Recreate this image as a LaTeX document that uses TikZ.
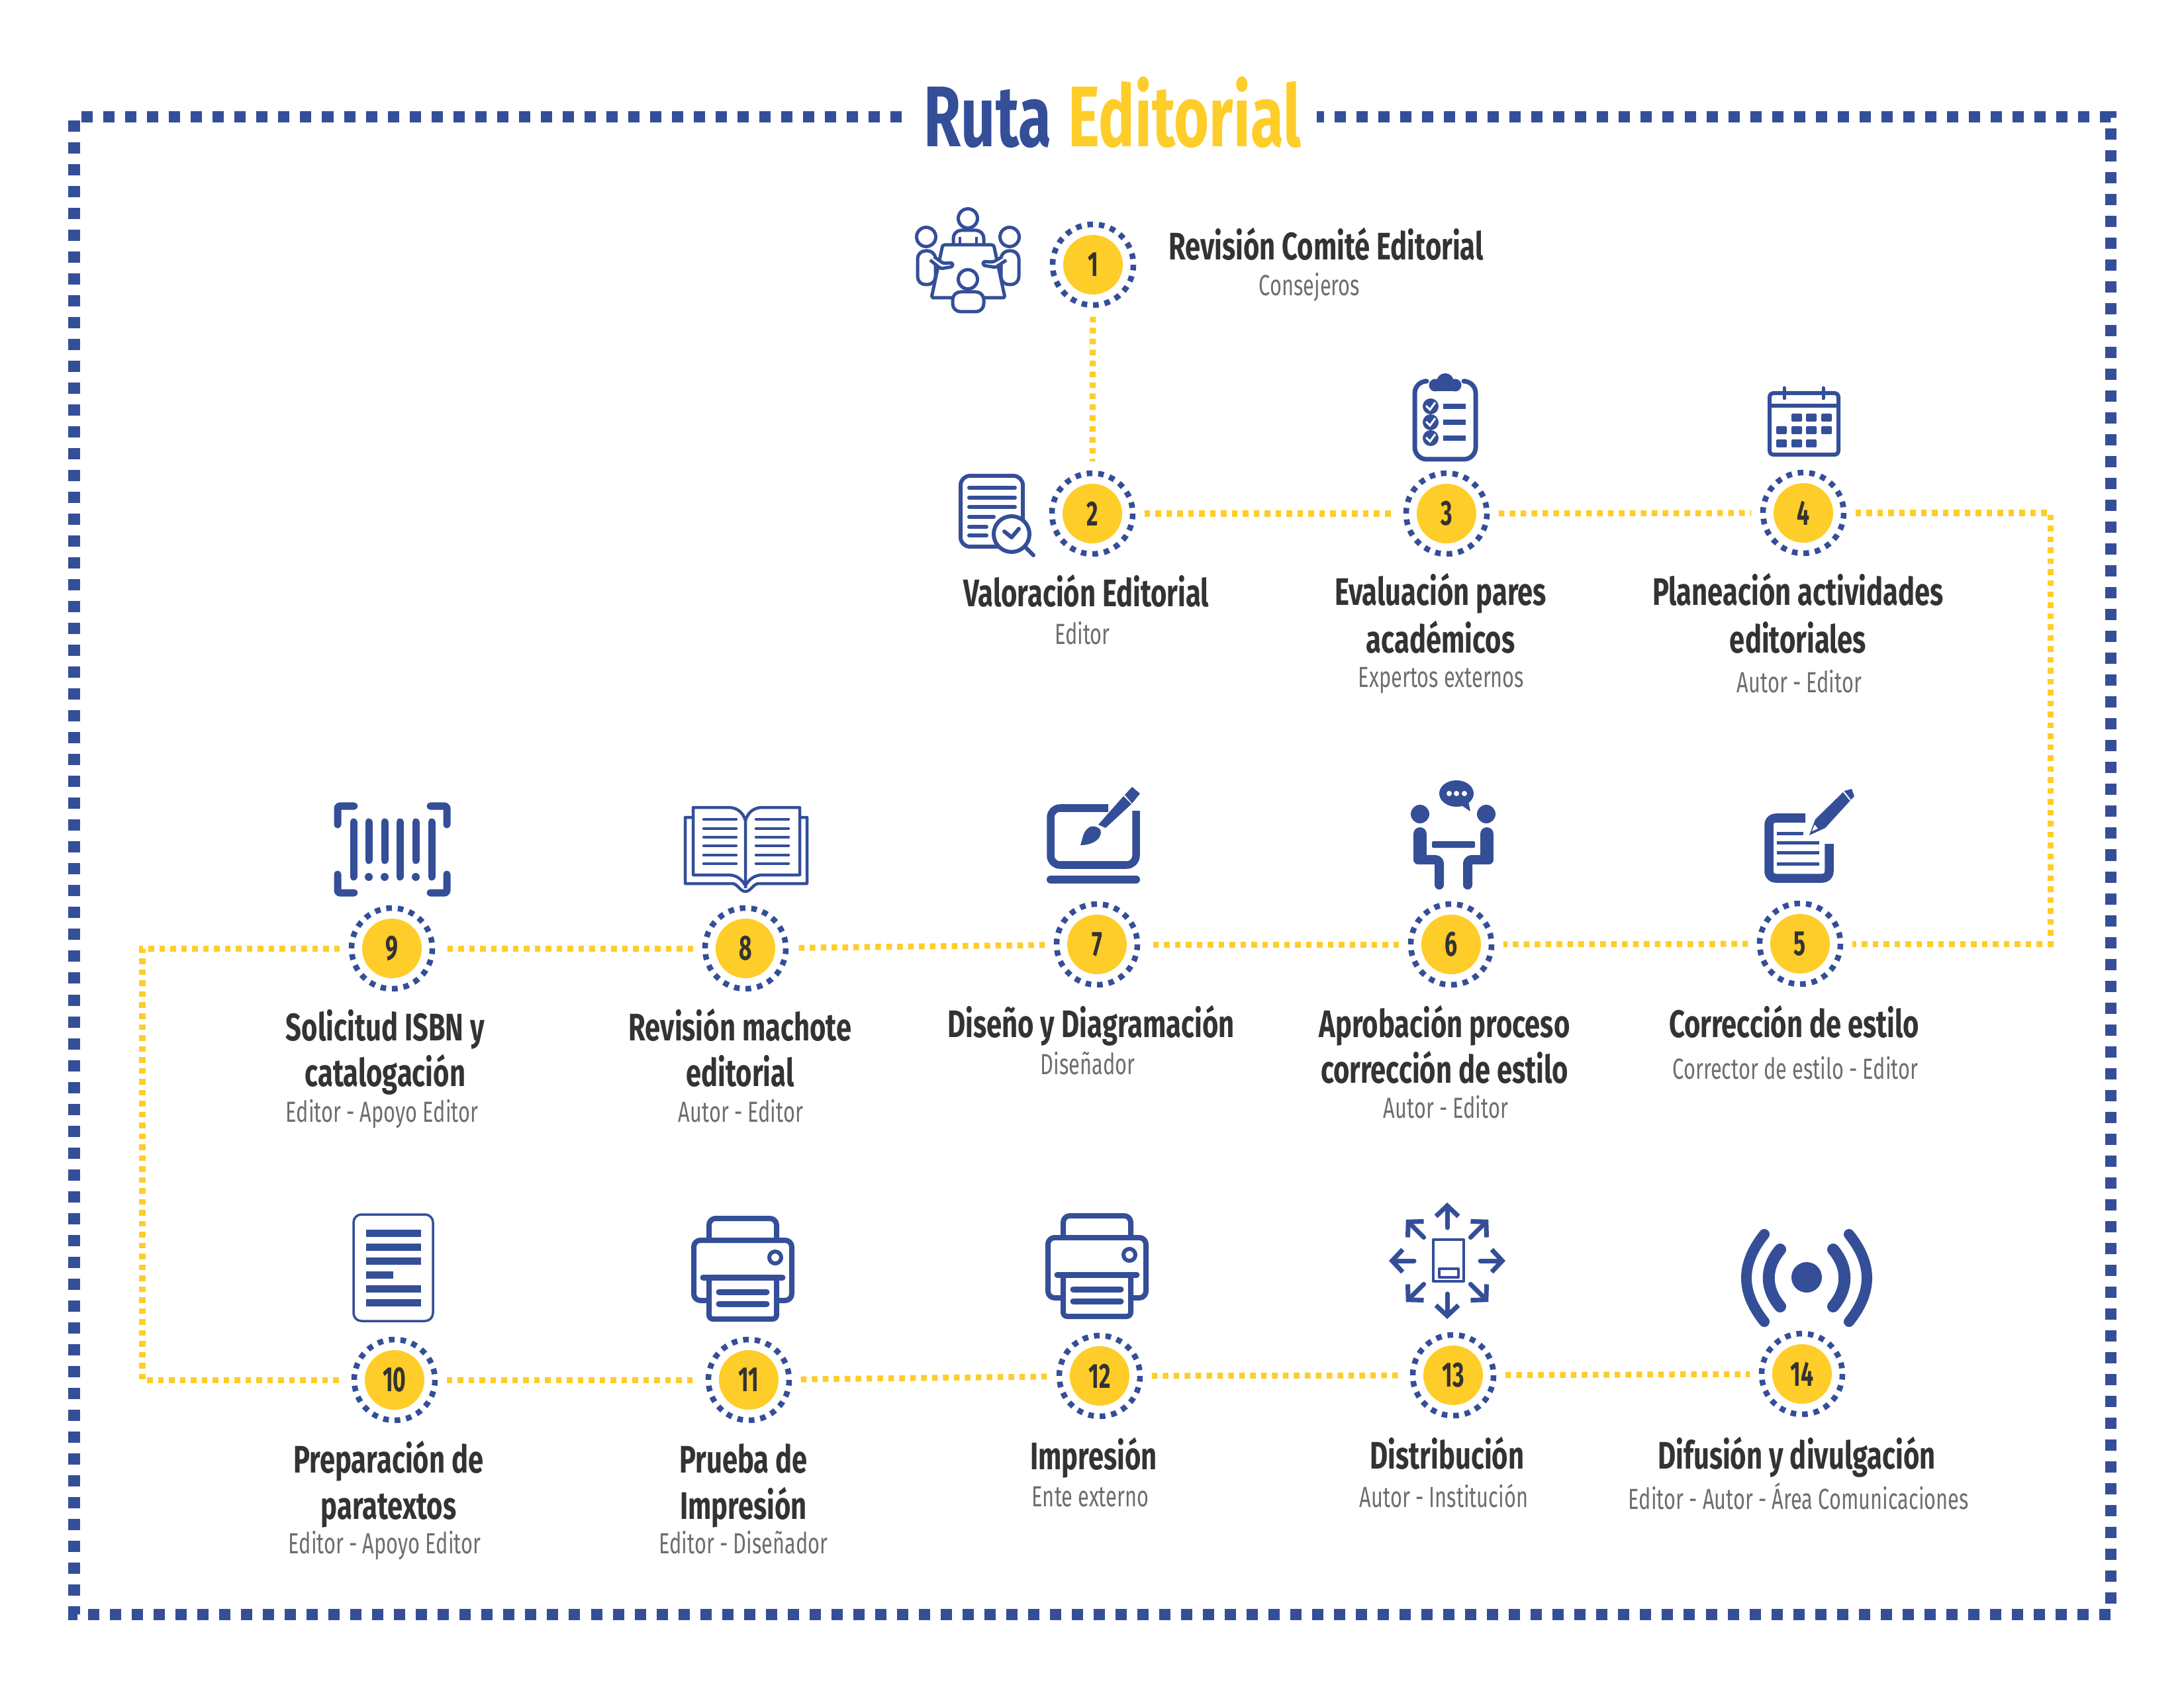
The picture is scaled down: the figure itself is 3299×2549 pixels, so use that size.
\documentclass[tikz,border=0pt]{standalone}
\usepackage{fontspec}
\usepackage{tikz}
\usetikzlibrary{arrows.meta,calc}
\newfontfamily\headfont[FakeStretch=0.72]{Fira Sans}
\newfontfamily\numfont[FakeStretch=0.64]{Fira Sans}
\newfontfamily\subfont[FakeStretch=0.70]{Fira Sans}
\newfontfamily\titlefont[FakeStretch=0.70]{Fira Sans}
\definecolor{inkblue}{HTML}{344E98}
\definecolor{sun}{HTML}{FFCD29}
\definecolor{ink}{HTML}{333333}
\definecolor{ash}{HTML}{6D6E71}
\tikzset{
  framedash/.style={inkblue,line width=0.17cm,dash pattern=on 0.17cm off 0.16cm},
  linkline/.style={sun,line width=0.09cm,dash pattern=on 0.085cm off 0.08cm},
  ringline/.style={inkblue,line width=0.085cm,dash pattern=on 0.085cm off 0.0892cm},
  hub/.style={circle,minimum size=1.56cm,inner sep=0pt},
  num/.style={text=ink,inner sep=0pt,font=\numfont\bfseries\fontsize{15}{15}\selectfont},
  headlab/.style={anchor=base,text=ink,inner sep=0pt,font=\headfont\bfseries\fontsize{16.5}{18}\selectfont},
  sublab/.style={anchor=base,text=ash,inner sep=0pt,font=\subfont\fontsize{12.5}{14}\selectfont},
  titlelab/.style={anchor=base west,inner sep=0pt,font=\titlefont\bfseries\fontsize{37}{40}\selectfont},
  ico/.style={draw=inkblue,line width=0.06cm,line join=round},
  icofill/.style={fill=inkblue,draw=none},
  printicon/.pic={
    \draw[ico,line width=0.08cm,rounded corners=0.1cm] (-51,-43) -- (-51,-76) -- (51,-76) -- (51,-43);
    \draw[ico,line width=0.08cm,rounded corners=0.1cm] (-53,48) -- (-74,48) -- (-74,-43) -- (74,-43) -- (74,48) -- (53,48);
    \draw[ico,line width=0.08cm,rounded corners=0.06cm] (-51,15) -- (-51,76) -- (51,76) -- (51,15);
    \draw[ico,line width=0.09cm,line cap=round] (-60,13) -- (60,13);
    \draw[ico,line width=0.09cm,line cap=round] (-36,35) -- (36,35);
    \draw[ico,line width=0.09cm,line cap=round] (-36,53) -- (36,53);
    \draw[ico,line width=0.06cm] (49,-17) circle (9);
  }
}
\begin{document}
\begin{tikzpicture}[x=0.01cm,y=-0.01cm]
\useasboundingbox (0,0) rectangle (3299,2549);
% frame and title
\draw[framedash] (1362,177)--(112,177)--(112,2439)--(3188,2439)--(3188,177)--(1989,177);
\node[titlelab,text=inkblue] (ruta) at (1395,222) {Ruta};
\node[titlelab,text=sun] (editorial) at (1613,222) {Editorial};
% steps
\foreach \i/\x/\y in {1/1651/400,2/1650/776,3/2185/776,4/2724/775,5/2719/1426,6/2192/1427,7/1657/1427,8/1126/1433,9/592/1433,10/596/2085,11/1131/2085,12/1661/2079,13/2195/2078,14/2722/2076}{
  \node[hub] (n\i) at (\x,\y) {};
  \fill[sun] (n\i) circle (45);
  \draw[ringline] (n\i) circle (61);
  \node[num] (t\i) at (n\i) {\i};
}
% connectors
\coordinate (turna) at (3097,775);
\coordinate (turnb) at (3097,1426);
\coordinate (turnc) at (215,1433);
\coordinate (turnd) at (215,2085);
\draw[linkline] (n1)--(n2);
\foreach \a/\b in {2/3,3/4,5/6,6/7,7/8,8/9,10/11,11/12,12/13,13/14}{
  \draw[linkline] (n\a)--(n\b);
}
\draw[linkline] (n4)--(turna)--(turnb)--(n5);
\draw[linkline] (n9)--(turnc)--(turnd)--(n10);
% labels
\foreach \nm/\x/\y/\lab in {a/2003/393/Revisión Comité Editorial,b/1641/917/Valoración Editorial,c/2176/915/Evaluación pares,d/2176/986/académicos,e/2716/915/Planeación actividades,f/2716/986/editoriales,g/2710/1567/Corrección de estilo,h/2182/1567/Aprobación proceso,k/2182/1636/corrección de estilo,l/1648/1567/Diseño y Diagramación,m/1118/1572/Revisión machote,o/1118/1641/editorial,p/582/1572/Solicitud ISBN y,q/582/1641/catalogación,r/587/2225/Preparación de,s/587/2295/paratextos,u/1123/2225/Prueba de,v/1123/2295/Impresión,w/1652/2220/Impresión,z/2186/2219/Distribución,zz/2714/2219/Difusión y divulgación}{
  \node[headlab] (lab\nm) at (\x,\y) {\lab};
}
\foreach \nm/\x/\y/\lab in {a/1978/447/Consejeros,b/1635/974/Editor,c/2177/1038/Expertos externos,d/2718/1046/Autor - Editor,e/2712/1630/Corrector de estilo - Editor,f/2184/1689/Autor - Editor,g/1643/1623/Diseñador,h/1119/1695/Autor - Editor,k/577/1695/Editor - Apoyo Editor,l/581/2347/Editor - Apoyo Editor,m/1123/2347/Editor - Diseñador,o/1647/2276/Ente externo,p/2181/2277/Autor - Institución,q/2717/2280/Editor - Autor - Área Comunicaciones}{
  \node[sublab] (sub\nm) at (\x,\y) {\lab};
}
% icon 1: meeting
\draw[ico,line width=0.05cm,rounded corners=0.03cm] (1424,370)--(1501,370)--(1518,450)--(1407,450)--cycle;
\draw[ico,line width=0.05cm,rounded corners=0.12cm] (1440,370)--(1440,348)--(1486,348)--(1486,370);
\draw[ico,line width=0.04cm] (1450,358)--(1450,370) (1475,358)--(1475,370);
\draw[ico,line width=0.05cm,fill=white] (1462,330) circle (14.5);
\draw[ico,line width=0.05cm,fill=white] (1399,358) circle (14.5);
\draw[ico,line width=0.05cm,fill=white] (1525,358) circle (14.5);
\draw[ico,line width=0.05cm,fill=white,rounded corners=0.12cm] (1386,379) rectangle (1413,430);
\draw[ico,line width=0.05cm,fill=white,rounded corners=0.12cm] (1512,379) rectangle (1539,430);
\draw[ico,line width=0.05cm,fill=white,rounded corners=0.03cm] (1405,393)--(1421,406)--(1439,403)--(1439,397)--(1425,398)--(1411,388);
\draw[ico,line width=0.05cm,fill=white,rounded corners=0.03cm] (1520,393)--(1504,404)--(1485,401)--(1485,395)--(1500,396)--(1514,388);
\draw[ico,line width=0.05cm,fill=white] (1462,422) circle (14.5);
\draw[ico,line width=0.05cm,fill=white,rounded corners=0.12cm] (1439,471)--(1439,441)--(1486,441)--(1486,471)--cycle;
% icon 2: review
\draw[ico,rounded corners=0.14cm] (1451,719) rectangle (1545,826);
\foreach \y/\e in {737/1533,752/1533,766/1533,781/1501,796/1490,809/1490}{
  \draw[ico,line cap=round] (1464,\y)--(\e,\y);
}
\draw[ico,fill=white] (1528,807) circle (27);
\draw[ico,line cap=round] (1548,826)--(1561,839);
\draw[ico,line cap=round] (1517,803)--(1528,812)--(1539,799);
% icon 3: clipboard
\draw[ico,line width=0.07cm,rounded corners=0.18cm] (2152,576)--(2137,576)--(2137,694)--(2229,694)--(2229,576)--(2214,576);
\fill[icofill] (2183,577) circle (13) (2168,582) circle (9.5) (2198,582) circle (9.5);
\fill[icofill] (2166,582) rectangle (2200,591);
\foreach \y in {614,638,662}{
  \fill[icofill] (2161,\y) circle (12);
  \draw[white,line width=0.03cm] (2154,\y-1)--(2160,\y+5)--(2168,\y-6);
  \draw[ico,line width=0.08cm] (2180,\y)--(2214,\y);
}
% icon 4: calendar
\draw[ico,line width=0.06cm,rounded corners=0.06cm] (2673,594) rectangle (2777,687);
\draw[ico,line width=0.06cm] (2673,613)--(2777,613);
\draw[ico,line width=0.05cm,line cap=round] (2695,586)--(2695,602) (2754,586)--(2754,602);
\foreach \cx/\cy in {2714/631,2736/631,2759/631,2691/650,2714/650,2736/650,2759/650,2691/670,2714/670,2736/670}{
  \fill[icofill,rounded corners=0.02cm] (\cx-8,\cy-6) rectangle (\cx+8,\cy+6);
}
% icon 5: note and pencil
\draw[ico,line width=0.135cm,rounded corners=0.1cm] (2727,1236)--(2672,1236)--(2672,1327)--(2763,1327)--(2763,1275);
\foreach \y/\e in {1259/2724,1273/2748,1288/2748,1305/2748}{
  \draw[ico,line width=0.05cm] (2684,\y)--(\e,\y);
}
\fill[icofill] (2733,1262)--(2742,1238)--(2786,1195)--(2797,1192)--(2801,1203)--(2757,1251)--cycle;
\draw[white,line width=0.02cm] (2783,1194)--(2795,1209);
\fill[white] (2737,1256)--(2741,1246)--(2746,1252)--cycle;
% icon 6: conversation
\fill[icofill] (2200,1199) ellipse (26 and 20);
\fill[icofill] (2205,1215)--(2221,1226)--(2217,1205)--cycle;
\fill[white] (2189,1199) circle (4) (2200,1199) circle (4) (2212,1199) circle (4);
\fill[icofill] (2145,1230) circle (14) (2245,1230) circle (14);
\draw[ico,line width=0.2cm,line cap=round,line join=round] (2145,1260)--(2145,1296);
\draw[ico,line width=0.2cm,line cap=round,line join=round] (2246,1260)--(2246,1296);
\draw[ico,line width=0.14cm,line cap=round,rounded corners=0.06cm] (2142,1299)--(2174,1299)--(2174,1337);
\draw[ico,line width=0.14cm,line cap=round,rounded corners=0.06cm] (2249,1299)--(2217,1299)--(2217,1337);
\fill[icofill,rounded corners=0.02cm] (2163,1271) rectangle (2228,1281);
% icon 7: tablet and brush
\draw[ico,line width=0.115cm,rounded corners=0.14cm] (1674,1221)--(1587,1221)--(1587,1307)--(1716,1307)--(1716,1219);
\draw[ico,line width=0.12cm,line cap=round] (1587,1329)--(1716,1329);
\fill[white] (1695,1205) rectangle (1730,1225);
\fill[icofill] (1697,1203)--(1709,1215)--(1670,1251)--(1659,1246)--cycle;
\fill[icofill] (1710,1189)--(1722,1199)--(1710,1214)--(1699,1201)--cycle;
\fill[icofill] (1647,1249) .. controls (1655,1247) and (1664,1252) .. (1663,1258) .. controls (1662,1270) and (1648,1277) .. (1632,1277) .. controls (1636,1265) and (1636,1255) .. (1647,1249);
% icon 8: book
\draw[ico,line width=0.045cm] (1047,1235)--(1035,1235)--(1035,1335)--(1106,1335) .. controls (1114,1335) and (1118,1347) .. (1126,1347) .. controls (1134,1347) and (1138,1335) .. (1146,1335)--(1219,1335)--(1219,1235)--(1208,1235);
\draw[ico,line width=0.045cm] (1126,1342)--(1126,1240) .. controls (1122,1226) and (1112,1220) .. (1100,1220)--(1047,1220)--(1047,1322)--(1100,1322) .. controls (1112,1322) and (1120,1328) .. (1126,1338);
\draw[ico,line width=0.045cm] (1126,1240) .. controls (1130,1226) and (1140,1220) .. (1152,1220)--(1208,1220)--(1208,1322)--(1152,1322) .. controls (1140,1322) and (1132,1328) .. (1126,1338);
\foreach \y in {1238,1252,1265,1278,1292,1305}{
  \draw[ico,line width=0.045cm,line cap=round] (1063,\y)--(1112,\y) (1142,\y)--(1191,\y);
}
% icon 9: barcode
\draw[ico,line width=0.11cm,line cap=round,rounded corners=0.03cm] (535,1218)--(510,1218)--(510,1246);
\draw[ico,line width=0.11cm,line cap=round,rounded corners=0.03cm] (535,1349)--(510,1349)--(510,1321);
\draw[ico,line width=0.11cm,line cap=round,rounded corners=0.03cm] (650,1218)--(675,1218)--(675,1246);
\draw[ico,line width=0.11cm,line cap=round,rounded corners=0.03cm] (650,1349)--(675,1349)--(675,1321);
\foreach \x in {534,604,652}{
  \draw[ico,line width=0.11cm,line cap=round] (\x,1242)--(\x,1325);
}
\foreach \x in {557,581,628}{
  \draw[ico,line width=0.11cm,line cap=round] (\x,1242)--(\x,1300);
  \fill[icofill] (\x,1325) circle (6);
}
% icon 10: text page
\draw[ico,line width=0.035cm,rounded corners=0.12cm] (534,1835) rectangle (654,1996);
\foreach \y/\e in {1858/636,1879/636,1900/636,1921/594,1942/636,1963/636}{
  \fill[icofill] (553,\y) rectangle (\e,\y+10.5);
}
% icons 11, 12: printers
\pic at (1122,1917) {printicon};
\pic at (1657,1913) {printicon};
% icon 13: distribution
\coordinate (dcen) at (2186,1905);
\draw[ico,line width=0.04cm] (2165,1873) rectangle (2211,1936);
\draw[ico,line width=0.04cm] (2174,1917) rectangle (2203,1930);
\foreach \a in {0,45,...,315}{
  \draw[ico,line width=0.07cm,line cap=round,-{Straight Barb[length=0.16cm,width=0.34cm]}] ($(dcen)+(\a:50)$)--($(dcen)+(\a:88)$);
}
% icon 14: broadcast
\fill[icofill] (2729,1930) circle (23);
\draw[ico,line width=0.18cm,line cap=round] (2689,1888) .. controls (2666,1915) and (2666,1947) .. (2689,1974);
\draw[ico,line width=0.18cm,line cap=round] (2769,1888) .. controls (2792,1915) and (2792,1947) .. (2769,1974);
\draw[ico,line width=0.16cm,line cap=round] (2665,1865) .. controls (2629,1910) and (2629,1952) .. (2665,1997);
\draw[ico,line width=0.16cm,line cap=round] (2793,1865) .. controls (2829,1910) and (2829,1952) .. (2793,1997);
\end{tikzpicture}
\end{document}
